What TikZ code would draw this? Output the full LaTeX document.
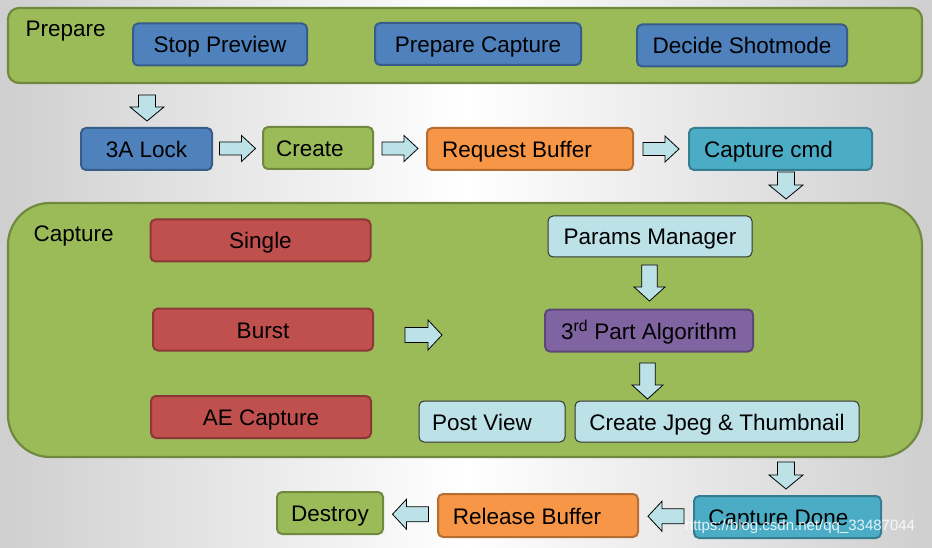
\documentclass[tikz,border=0pt]{standalone}
\usepackage{fontspec}
\setmainfont{Liberation Sans}
\usetikzlibrary{calc}

\definecolor{grnFill}{HTML}{9BBB59}
\definecolor{grnLine}{HTML}{71893F}
\definecolor{bluFill}{HTML}{4F81BD}
\definecolor{bluLine}{HTML}{385D8A}
\definecolor{orgFill}{HTML}{F79646}
\definecolor{orgLine}{HTML}{B66D31}
\definecolor{cyaFill}{HTML}{4BACC6}
\definecolor{cyaLine}{HTML}{357D91}
\definecolor{redFill}{HTML}{C0504D}
\definecolor{redLine}{HTML}{8C3836}
\definecolor{purFill}{HTML}{8064A2}
\definecolor{purLine}{HTML}{5C4776}
\definecolor{litFill}{HTML}{BCE2E8}

\tikzset{every picture/.style={line width=0.75pt}}
\tikzset{
  pics/fatarrow/.style args={#1/#2}{code={
    \draw[fill=litFill, draw=black, line width=0.8] (-#1/2,-#2/2) -- (#1/2-14,-#2/2) -- (#1/2-14,-#2) -- (#1/2,0) -- (#1/2-14,#2) -- (#1/2-14,#2/2) -- (-#1/2,#2/2) -- cycle;
  }}
}

\begin{document}
\begin{tikzpicture}[x=1pt,y=1pt,yscale=-1,
  txt/.style={font=\fontsize{22.5}{26}\selectfont},
  box/.style={txt, rounded corners=5, line width=2, inner sep=0, minimum height=42, text height=17, text depth=0},
  bluebox/.style={box, fill=bluFill, draw=bluLine},
  greenbox/.style={box, fill=grnFill, draw=grnLine},
  orangebox/.style={box, fill=orgFill, draw=orgLine},
  cyanbox/.style={box, fill=cyaFill, draw=cyaLine},
  redbox/.style={box, fill=redFill, draw=redLine},
  purplebox/.style={box, fill=purFill, draw=purLine},
  lightbox/.style={box, fill=litFill, draw=black!80, line width=1},
  stage/.style={fill=grnFill, draw=grnLine, line width=2.2}]

	% background
	\shade[left color=black!19, right color=black!19, middle color=white] (0,0) rectangle (932,548);
	\useasboundingbox (0,0) rectangle (932,548);

	% Prepare stage
	\draw[stage, rounded corners=11] (8,8) rectangle (922,83);
	\node[txt, anchor=west] (prepare) at (22,31) {Prepare};
	\node[bluebox, minimum width=174] (stop) at (220,44.5) {Stop Preview};
	\node[bluebox, minimum width=206] (prepcap) at (478,44) {Prepare Capture};
	\node[bluebox, minimum width=210] (decide) at (742,45.5) {Decide Shotmode};

	% middle row
	\node[bluebox, minimum width=131] (lock) at (146.5,149) {3A Lock};
	\node[greenbox, minimum width=110] (create) at (318,148) {Create\hspace*{16pt}};
	\node[orangebox, minimum width=206] (reqbuf) at (530,149) {Request Buffer\hspace*{26pt}};
	\node[cyanbox, minimum width=183] (capcmd) at (780.5,149) {Capture cmd\hspace*{24pt}};

	\pic[rotate=-90] at (147,108) {fatarrow=26/17};
	\pic at ($(lock.east)!0.5!(create.west)$) {fatarrow=36/13};
	\pic at ($(create.east)!0.5!(reqbuf.west)$) {fatarrow=36/13};
	\pic at ($(reqbuf.east)!0.5!(capcmd.west)$) {fatarrow=36/13};
	\pic[rotate=-90] at (786,185.5) {fatarrow=27/17};

	% Capture stage
	\draw[stage, rounded corners=42] (8,203) rectangle (922,457);
	\node[txt, anchor=west] (capture) at (30,236) {Capture};
	\node[redbox, minimum width=220] (single) at (260.5,240.5) {Single};
	\node[redbox, minimum width=220] (burst) at (263,329.5) {Burst};
	\node[redbox, minimum width=220] (ae) at (261,417) {AE Capture};
	\node[lightbox, minimum width=204, minimum height=41] (params) at (650,236.5) {Params Manager};
	\node[purplebox, minimum width=208] (algo) at (649,330.5) {3\textsuperscript{rd} Part Algorithm};
	\node[lightbox, minimum width=146, minimum height=41] (post) at (492,421.5) {Post View\hspace*{20pt}};
	\node[lightbox, minimum width=284, minimum height=41] (jpeg) at (717,421.5) {Create Jpeg \& Thumbnail};

	\pic at (423.5,335) {fatarrow=37/15};
	\pic[rotate=-90] at ($(params.south)!0.5!(algo.north)$) {fatarrow=36/15.5};
	\pic[rotate=-90] at (647.5,381) {fatarrow=36/15.5};

	% bottom row
	\node[cyanbox, minimum width=187] (capdone) at (787.5,517) {Capture Done\hspace*{18pt}};
	\node[orangebox, minimum width=200, minimum height=43] (relbuf) at (538,515.5) {Release Buffer\hspace*{22pt}};
	\node[greenbox, minimum width=106] (destroy) at (330,513) {Destroy};

	\pic[rotate=-90] at (786,475.5) {fatarrow=27/17};
	\pic[rotate=180] at ($(relbuf.east)!0.5!(capdone.west)$) {fatarrow=36/15};
	\pic[rotate=180] at ($(destroy.east)!0.5!(relbuf.west)$) {fatarrow=36/15};

	% watermark
	\node[font=\fontsize{15}{18}\selectfont, text=white, opacity=0.85] (mark) at (800,527) {https://blog.csdn.net/qq\_33487044};

\end{tikzpicture}
\end{document}
